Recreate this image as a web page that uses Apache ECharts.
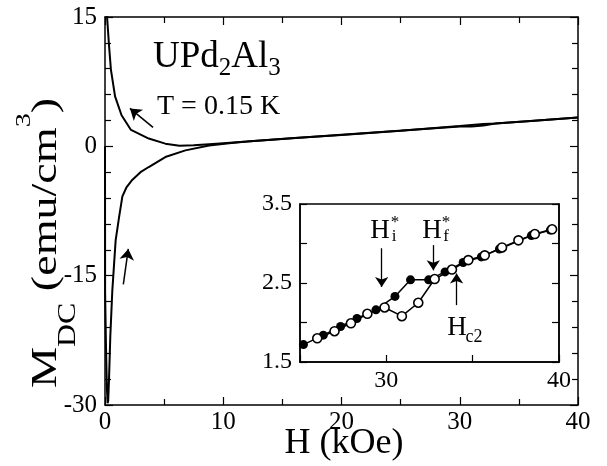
<!DOCTYPE html>
<html><head><meta charset="utf-8">
<script src="https://cdn.jsdelivr.net/npm/echarts@6/dist/echarts.min.js"></script>
<style>html,body{margin:0;padding:0;background:#fff}#c{width:607px;height:466px}</style>
</head><body><div id="c"></div>
<script>
// Main plot: decreasing-field branch (upper) and increasing-field branch (lower)
const upperH = [40, 36, 33, 32, 30, 25, 20, 16, 12, 10, 8.8, 7.5, 6.3, 5.1, 3.7, 2.2, 1.4, 0.85, 0.5, 0.34, 0.18, 0.12];
const upperM = [3.34, 2.95, 2.65, 2.58, 2.35, 1.82, 1.32, 0.98, 0.55, 0.36, 0.25, 0.13, 0.08, 0.31, 0.9, 1.9, 3.6, 5.8, 8.9, 11.7, 14.9, 17];
const lowerH = [0, 0.01, 0.08, 0.16, 0.22, 0.27, 0.34, 0.45, 0.62, 0.9, 1.19, 1.47, 1.8, 2.3, 3.0, 3.7, 5.1, 6.8, 8.8, 10.5, 12, 20, 30, 31, 32, 33, 36, 40];
const lowerM = [0, -17, -23, -28, -29.8, -29.5, -27, -22, -16.7, -10.9, -8.2, -5.8, -4.8, -3.9, -3.0, -2.4, -1.24, -0.47, 0.1, 0.35, 0.55, 1.35, 2.3, 2.3, 2.42, 2.65, 2.95, 3.34];
// Inset: filled and open circles
const filledH = [25.2, 26.35, 27.35, 28.3, 29.4, 30.5, 31.4, 32.45, 33.4, 34.45, 35.5, 36.55, 38.4, 39.5];
const filledM = [1.72, 1.84, 1.95, 2.05, 2.16, 2.33, 2.54, 2.54, 2.64, 2.76, 2.83, 2.93, 3.10, 3.17];
const openH = [26.0, 27.0, 27.95, 28.9, 29.9, 30.9, 31.85, 32.8, 33.8, 34.75, 35.7, 36.7, 37.65, 38.6, 39.6];
const openM = [1.80, 1.89, 1.99, 2.11, 2.19, 2.08, 2.25, 2.55, 2.67, 2.79, 2.85, 2.95, 3.04, 3.12, 3.18];
// Arrows: [fromH, fromM, toH, toM]
const mainArrows = [[4.06, 2.2, 2.11, 4.4], [1.55, -16.0, 1.97, -11.9]];
const insetArrows = [[29.73, 2.94, 29.73, 2.45], [32.72, 2.98, 32.72, 2.66], [34.07, 2.22, 34.07, 2.62]];
// Ticks
const mainXTicks = [0, 10, 20, 30, 40];
const mainYTicks = [-30, -15, 0, 15];
const insetXLabels = [30, 40];
const insetYLabels = [1.5, 2.5, 3.5];

const F = 'Liberation Serif, Times New Roman, serif';
const zip = (a, b) => a.map((v, i) => [v, b[i]]);
const blk = '#000';

function axis(extra) {
  return Object.assign({
    type: 'value', splitLine: {show: false},
    axisLine: {onZero: false, lineStyle: {color: blk, width: 1.5}},
    axisTick: {inside: true, length: 8, lineStyle: {color: blk, width: 1.2}},
    minorTick: {show: false},
    axisLabel: {fontFamily: F, fontSize: 25, color: blk}
  }, extra);
}

const chart = echarts.init(document.getElementById('c'));
const option = {
  animation: false,
  backgroundColor: '#fff',
  grid: [
    {left: 105, top: 17, width: 473, height: 388, show: false},
    {left: 300, top: 204, width: 259, height: 158, show: true, backgroundColor: '#fff', borderColor: blk, borderWidth: 1.5}
  ],
  xAxis: [
    axis({gridIndex: 0, min: mainXTicks[0], max: mainXTicks[mainXTicks.length - 1], interval: 10,
      minorTick: {show: true, splitNumber: 2, length: 6, lineStyle: {color: blk, width: 1.2}},
      axisLabel: {fontFamily: F, fontSize: 25, color: blk, margin: 5}}),
    axis({gridIndex: 0, position: 'top', min: 0, max: 40, interval: 10,
      minorTick: {show: true, splitNumber: 2, length: 6, lineStyle: {color: blk, width: 1.2}},
      axisLabel: {show: false}}),
    axis({gridIndex: 1, min: 25, max: 40, interval: 5, axisTick: {inside: true, length: 7, lineStyle: {color: blk, width: 1.2}},
      axisLabel: {fontFamily: F, fontSize: 24, color: blk, margin: 7,
        formatter: v => insetXLabels.includes(v) ? String(v) : ''}})
  ],
  yAxis: [
    axis({gridIndex: 0, min: mainYTicks[0], max: mainYTicks[mainYTicks.length - 1], interval: 15,
      minorTick: {show: true, splitNumber: 5, length: 6, lineStyle: {color: blk, width: 1.2}},
      axisLabel: {fontFamily: F, fontSize: 25, color: blk, margin: 8}}),
    axis({gridIndex: 0, position: 'right', min: -30, max: 15, interval: 15,
      minorTick: {show: true, splitNumber: 5, length: 6, lineStyle: {color: blk, width: 1.2}},
      axisLabel: {show: false}}),
    axis({gridIndex: 1, min: 1.5, max: 3.5, interval: 0.5, axisTick: {inside: true, length: 7, lineStyle: {color: blk, width: 1.2}},
      axisLabel: {fontFamily: F, fontSize: 24, color: blk, margin: 8,
        formatter: v => insetYLabels.some(t => Math.abs(t - v) < 1e-6) ? v.toFixed(1) : ''}}),
    axis({gridIndex: 1, position: 'right', min: 1.5, max: 3.5, interval: 0.5,
      axisTick: {inside: true, length: 7, lineStyle: {color: blk, width: 1.2}}, axisLabel: {show: false}})
  ],
  series: [
    {type: 'line', xAxisIndex: 0, yAxisIndex: 0, data: zip(upperH, upperM), showSymbol: false,
      lineStyle: {color: blk, width: 2}, clip: true,
      markLine: {silent: true, symbol: ['none', 'arrow'], symbolSize: 11, label: {show: false},
        lineStyle: {color: blk, width: 1.5, type: 'solid'}, itemStyle: {color: blk},
        data: mainArrows.map(a => [{coord: [a[0], a[1]]}, {coord: [a[2], a[3]]}])}},
    {type: 'line', xAxisIndex: 0, yAxisIndex: 0, data: zip(lowerH, lowerM), showSymbol: false,
      lineStyle: {color: blk, width: 2}, clip: true},
    {type: 'line', xAxisIndex: 2, yAxisIndex: 2, data: zip(filledH, filledM), symbol: 'circle', symbolSize: 9,
      itemStyle: {color: blk}, lineStyle: {color: blk, width: 1.5}, z: 3,
      markLine: {silent: true, symbol: ['none', 'arrow'], symbolSize: 10, label: {show: false},
        lineStyle: {color: blk, width: 1.3, type: 'solid'}, itemStyle: {color: blk},
        data: insetArrows.map(a => [{coord: [a[0], a[1]]}, {coord: [a[2], a[3]]}])}},
    {type: 'line', xAxisIndex: 2, yAxisIndex: 2, data: zip(openH, openM), symbol: 'circle', symbolSize: 9,
      itemStyle: {color: '#fff', borderColor: blk, borderWidth: 1.6}, lineStyle: {color: blk, width: 1.5}, z: 4}
  ],
  graphic: [
    {type: 'text', x: 153, y: 57, style: {
      text: '{m|UPd}{s|2}{m|Al}{s|3}', verticalAlign: 'middle', fill: blk,
      rich: {m: {fontFamily: F, fontSize: 37, lineHeight: 48, verticalAlign: 'middle'},
             s: {fontFamily: F, fontSize: 25, lineHeight: 25, verticalAlign: 'bottom'}}}},
    {type: 'text', x: 157, y: 107, style: {text: 'T = 0.15 K', font: '28px ' + F, fill: blk, verticalAlign: 'middle'}},
    {type: 'text', x: 344, y: 444, style: {text: 'H (kOe)', font: '36px ' + F, fill: blk, align: 'center', verticalAlign: 'middle'}},
    {type: 'text', x: 47, y: 243, rotation: Math.PI / 2, scaleX: 1.28, style: {
      text: '{m|M}{s|DC}{m| (emu/cm}{p|3}{m|)}', align: 'center', verticalAlign: 'middle', fill: blk,
      rich: {m: {fontFamily: F, fontSize: 36, lineHeight: 68, verticalAlign: 'middle'},
             s: {fontFamily: F, fontSize: 25, lineHeight: 57, verticalAlign: 'bottom'},
             p: {fontFamily: F, fontSize: 22, lineHeight: 12, verticalAlign: 'top'}}}},
    {type: 'text', x: 380, y: 231, z: 10, style: {text: 'H', font: '27px ' + F, fill: blk, align: 'center', verticalAlign: 'middle'}},
    {type: 'text', x: 395, y: 223, z: 10, style: {text: '*', font: '17px ' + F, fill: blk, align: 'center', verticalAlign: 'middle'}},
    {type: 'text', x: 394, y: 237, z: 10, style: {text: 'i', font: '17px ' + F, fill: blk, align: 'center', verticalAlign: 'middle'}},
    {type: 'text', x: 432, y: 231, z: 10, style: {text: 'H', font: '27px ' + F, fill: blk, align: 'center', verticalAlign: 'middle'}},
    {type: 'text', x: 446, y: 223, z: 10, style: {text: '*', font: '17px ' + F, fill: blk, align: 'center', verticalAlign: 'middle'}},
    {type: 'text', x: 446, y: 237, z: 10, style: {text: 'f', font: '17px ' + F, fill: blk, align: 'center', verticalAlign: 'middle'}},
    {type: 'text', x: 457, y: 328, z: 10, style: {text: 'H', font: '27px ' + F, fill: blk, align: 'center', verticalAlign: 'middle'}},
    {type: 'text', x: 474, y: 337, z: 10, style: {text: 'c2', font: '18px ' + F, fill: blk, align: 'center', verticalAlign: 'middle'}}
  ]
};
chart.setOption(option);
</script></body></html>
